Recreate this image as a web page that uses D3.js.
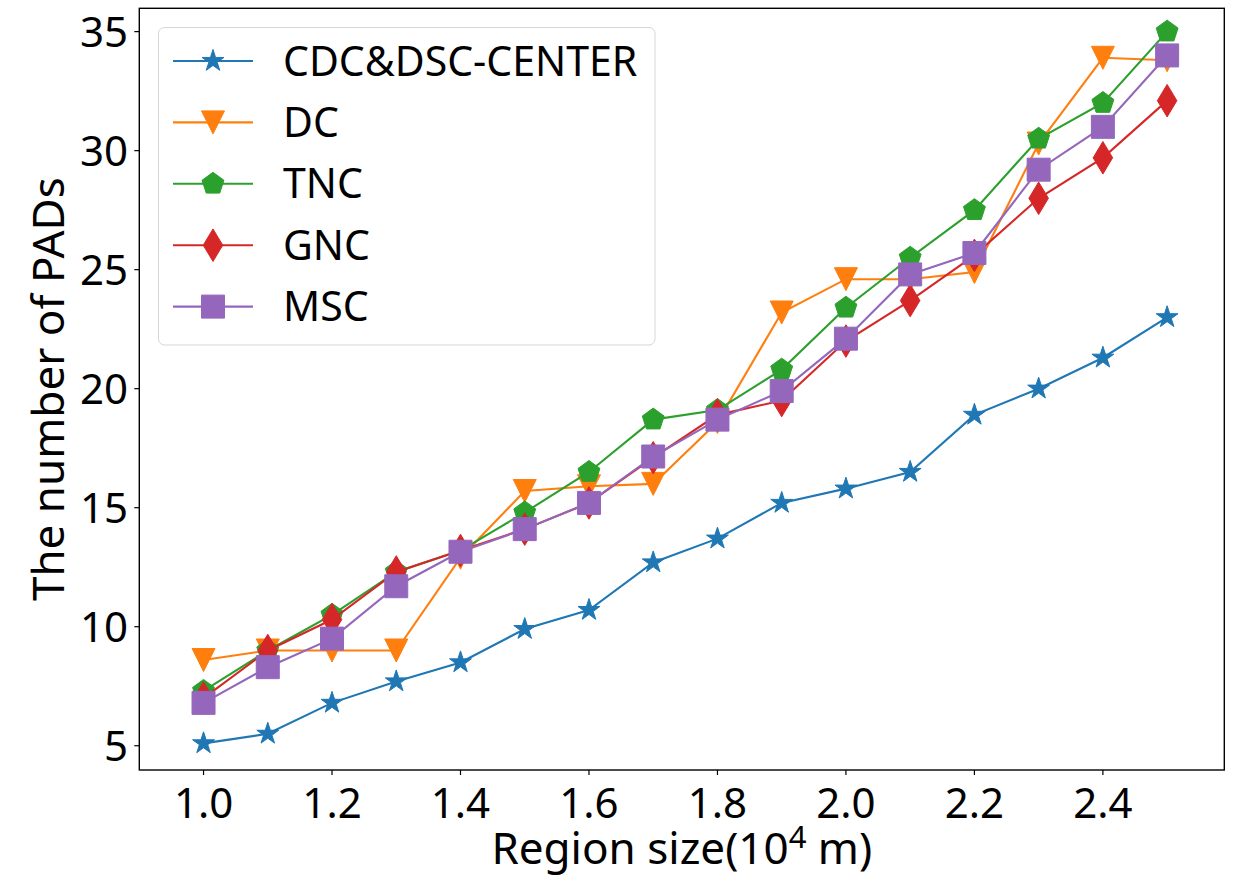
<!DOCTYPE html>
<html>
<head>
<meta charset="utf-8">
<script src="https://cdn.jsdelivr.net/npm/d3@7"></script>
<style>
  html, body { margin: 0; padding: 0; background: #fff; }
  svg { display: block; }
  text { font-family: "Noto Sans", "Open Sans", sans-serif; fill: #000; }
</style>
</head>
<body>
<svg id="chart" width="1240" height="877"></svg>
<script>
const xValues = [1.0, 1.1, 1.2, 1.3, 1.4, 1.5, 1.6, 1.7, 1.8, 1.9, 2.0, 2.1, 2.2, 2.3, 2.4, 2.5];
const seriesNames = ["CDC&DSC-CENTER", "DC", "TNC", "GNC", "MSC"];
const cdcValues = [5.1, 5.5, 6.8, 7.7, 8.5, 9.9, 10.7, 12.7, 13.7, 15.2, 15.8, 16.5, 18.9, 20.0, 21.3, 23.0];
const dcValues  = [8.6, 9.0, 9.0, 9.0, 12.9, 15.7, 15.9, 16.0, 18.6, 23.2, 24.6, 24.6, 24.9, 30.3, 33.9, 33.8];
const tncValues = [7.3, 9.0, 10.5, 12.3, 13.2, 14.8, 16.5, 18.7, 19.1, 20.8, 23.4, 25.5, 27.5, 30.5, 32.0, 35.0];
const gncValues = [7.0, 9.0, 10.3, 12.3, 13.2, 14.1, 15.2, 17.1, 18.9, 19.5, 22.0, 23.7, 25.6, 28.0, 29.7, 32.1];
const mscValues = [6.8, 8.3, 9.5, 11.7, 13.15, 14.1, 15.2, 17.15, 18.7, 19.9, 22.1, 24.8, 25.7, 29.2, 31.0, 34.0];
const xTicks = [1.0, 1.2, 1.4, 1.6, 1.8, 2.0, 2.2, 2.4];
const yTicks = [5, 10, 15, 20, 25, 30, 35];
const xLabelMain = "Region size(10";
const xLabelSup = "4";
const xLabelEnd = " m)";
const yLabel = "The number of PADs";

const colors = ["#1f77b4", "#ff7f0e", "#2ca02c", "#d62728", "#9467bd"];
const markers = ["star", "tri", "pent", "thin", "square"];
const allValues = [cdcValues, dcValues, tncValues, gncValues, mscValues];

const svg = d3.select("#chart");
const L = 139.3, R = 1224.3, T = 8.3, B = 770;
const x = d3.scaleLinear().domain([0.9, 2.589]).range([L, R]);
const y = d3.scaleLinear().domain([3.98, 35.98]).range([B, T]);

const ms = 23;
function markerPath(type) {
  const h = ms / 2;
  if (type === "square") return `M${-h},${-h}H${h}V${h}H${-h}Z`;
  if (type === "tri") return `M0,${h}L${-h},${-h}L${h},${-h}Z`;
  if (type === "thin") {
    const dh = ms * Math.SQRT2 / 2, dw = dh * 0.6;
    return `M0,${-dh}L${dw},0L0,${dh}L${-dw},0Z`;
  }
  if (type === "pent") {
    let p = [];
    for (let i = 0; i < 5; i++) {
      const a = -Math.PI / 2 + i * 2 * Math.PI / 5;
      p.push([h * Math.cos(a), h * Math.sin(a)]);
    }
    return "M" + p.map(d => d.join(",")).join("L") + "Z";
  }
  if (type === "star") {
    let p = [];
    const ri = h * 0.381966;
    for (let i = 0; i < 10; i++) {
      const a = -Math.PI / 2 + i * Math.PI / 5;
      const r = i % 2 === 0 ? h : ri;
      p.push([r * Math.cos(a), r * Math.sin(a)]);
    }
    return "M" + p.map(d => d.join(",")).join("L") + "Z";
  }
}

svg.append("rect").attr("x", 0).attr("y", 0).attr("width", 1240).attr("height", 877).attr("fill", "#fff");

const plot = svg.append("g");
const line = d3.line().x((d, i) => x(xValues[i])).y(d => y(d));

allValues.forEach((vals, si) => {
  const g = plot.append("g");
  g.append("path").datum(vals).attr("d", line)
    .attr("fill", "none").attr("stroke", colors[si]).attr("stroke-width", 2.1);
  g.selectAll("path.m").data(vals).enter().append("path").attr("class", "m")
    .attr("d", markerPath(markers[si]))
    .attr("transform", (d, i) => `translate(${x(xValues[i])},${y(d)})`)
    .attr("fill", colors[si]).attr("stroke", colors[si]).attr("stroke-width", 1);
});

svg.append("rect").attr("x", L).attr("y", T).attr("width", R - L).attr("height", B - T)
  .attr("fill", "none").attr("stroke", "#000").attr("stroke-width", 1.4);

const xAxis = svg.append("g");
xTicks.forEach(t => {
  xAxis.append("line").attr("x1", x(t)).attr("x2", x(t)).attr("y1", B).attr("y2", B + 5)
    .attr("stroke", "#000").attr("stroke-width", 1.2);
  xAxis.append("text").attr("x", x(t)).attr("y", 818).attr("text-anchor", "middle")
    .attr("font-size", 42).text(t.toFixed(1));
});
const yAxis = svg.append("g");
yTicks.forEach(t => {
  yAxis.append("line").attr("x1", L - 5).attr("x2", L).attr("y1", y(t)).attr("y2", y(t))
    .attr("stroke", "#000").attr("stroke-width", 1.2);
  yAxis.append("text").attr("x", 128).attr("y", y(t) + 15).attr("text-anchor", "end")
    .attr("font-size", 42).text(t);
});

const xl = svg.append("text").attr("x", (L + R) / 2).attr("y", 864).attr("text-anchor", "middle")
  .attr("font-size", 44);
xl.append("tspan").text(xLabelMain);
xl.append("tspan").attr("font-size", 31).attr("dy", -16).text(xLabelSup);
xl.append("tspan").attr("dy", 16).text(xLabelEnd);

svg.append("text").attr("transform", `translate(64,${(T + B) / 2}) rotate(-90)`)
  .attr("text-anchor", "middle").attr("font-size", 44).text(yLabel);

const lg = svg.append("g");
lg.append("rect").attr("x", 158.5).attr("y", 27.5).attr("width", 496.5).attr("height", 317.5)
  .attr("rx", 6).attr("fill", "#fff").attr("fill-opacity", 0.8)
  .attr("stroke", "#d6d6d6").attr("stroke-width", 1);
seriesNames.forEach((name, i) => {
  const cy = 61 + i * 61.4;
  lg.append("line").attr("x1", 173).attr("x2", 253).attr("y1", cy).attr("y2", cy)
    .attr("stroke", colors[i]).attr("stroke-width", 2.1);
  lg.append("path").attr("d", markerPath(markers[i])).attr("transform", `translate(213,${cy})`)
    .attr("fill", colors[i]).attr("stroke", colors[i]).attr("stroke-width", 1);
  lg.append("text").attr("x", 283).attr("y", cy + 14.5).attr("font-size", 41).text(name);
});
</script>
</body>
</html>
